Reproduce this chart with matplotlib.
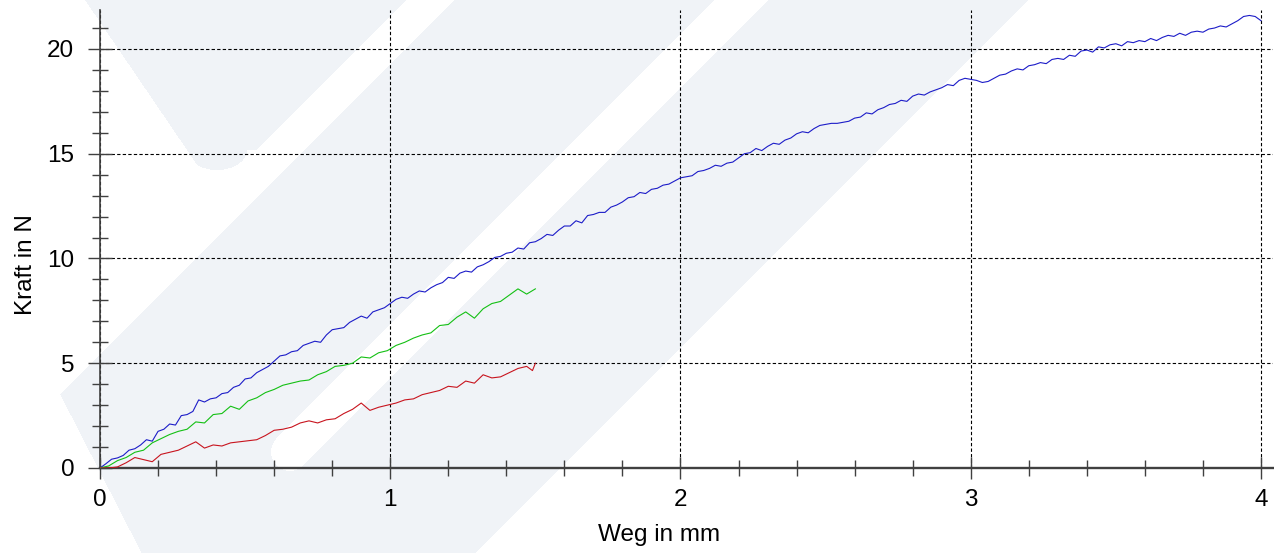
import numpy as np
import matplotlib
matplotlib.use("Agg")
import matplotlib.pyplot as plt
from matplotlib.ticker import MultipleLocator

plt.rcParams['font.family'] = ['Liberation Sans', 'DejaVu Sans']

# Kraft-Weg curves (x in mm, y in N)
blue_step = 0.02
blue_y = [0.00, 0.20, 0.42, 0.48, 0.60, 0.85, 0.92, 1.10, 1.35, 1.28,
          1.75, 1.85, 2.10, 2.05, 2.50, 2.55, 2.70, 3.25, 3.15, 3.30,
          3.35, 3.55, 3.60, 3.85, 3.95, 4.25, 4.30, 4.55, 4.70, 4.85,
          5.10, 5.35, 5.40, 5.55, 5.60, 5.85, 5.95, 6.05, 6.00, 6.35,
          6.60, 6.65, 6.70, 6.95, 7.10, 7.25, 7.15, 7.45, 7.55, 7.65,
          7.85, 8.05, 8.15, 8.10, 8.30, 8.45, 8.40, 8.60, 8.75, 8.85,
          9.10, 9.05, 9.30, 9.40, 9.35, 9.60, 9.70, 9.85, 10.05, 10.10,
          10.25, 10.30, 10.50, 10.45, 10.75, 10.80, 10.95, 11.15, 11.10, 11.35,
          11.55, 11.55, 11.80, 11.70, 12.05, 12.10, 12.20, 12.20, 12.45, 12.55,
          12.70, 12.90, 12.95, 13.15, 13.10, 13.30, 13.35, 13.50, 13.55, 13.70,
          13.85, 13.90, 13.95, 14.15, 14.20, 14.30, 14.45, 14.40, 14.55, 14.60,
          14.80, 15.00, 15.05, 15.25, 15.15, 15.35, 15.50, 15.45, 15.65, 15.75,
          15.95, 16.05, 16.00, 16.20, 16.35, 16.40, 16.45, 16.45, 16.50, 16.55,
          16.70, 16.75, 16.95, 16.90, 17.10, 17.20, 17.35, 17.40, 17.55, 17.50,
          17.75, 17.85, 17.80, 17.95, 18.05, 18.15, 18.30, 18.25, 18.50, 18.60,
          18.55, 18.50, 18.40, 18.45, 18.60, 18.75, 18.80, 18.95, 19.05, 19.00,
          19.20, 19.25, 19.35, 19.30, 19.50, 19.55, 19.50, 19.70, 19.65, 19.90,
          19.95, 19.85, 20.10, 20.05, 20.20, 20.25, 20.15, 20.35, 20.30, 20.40,
          20.35, 20.50, 20.40, 20.55, 20.65, 20.60, 20.75, 20.65, 20.80, 20.85,
          20.80, 20.95, 21.00, 21.10, 21.05, 21.20, 21.35, 21.55, 21.60, 21.55,
          21.35]
blue_x = np.round(np.arange(len(blue_y)) * blue_step, 3)

green_x = [0.00, 0.03, 0.06, 0.09, 0.12, 0.15, 0.18, 0.21, 0.24, 0.27, 0.30, 0.33, 0.36, 0.39,
           0.42, 0.45, 0.48, 0.51, 0.54, 0.57, 0.60, 0.63, 0.66, 0.69, 0.72, 0.75, 0.78, 0.81,
           0.84, 0.87, 0.90, 0.93, 0.96, 0.99, 1.02, 1.05, 1.08, 1.11, 1.14, 1.17, 1.20, 1.23,
           1.26, 1.29, 1.32, 1.35, 1.38, 1.41, 1.44, 1.47, 1.50]
green_y = [0.00, 0.10, 0.35, 0.50, 0.75, 0.85, 1.20, 1.40, 1.60, 1.75, 1.85, 2.20, 2.15, 2.55,
           2.60, 2.95, 2.80, 3.20, 3.35, 3.60, 3.75, 3.95, 4.05, 4.15, 4.20, 4.45, 4.60, 4.85,
           4.90, 5.00, 5.30, 5.25, 5.50, 5.60, 5.85, 6.00, 6.20, 6.35, 6.45, 6.80, 6.85, 7.20,
           7.45, 7.15, 7.60, 7.85, 7.95, 8.25, 8.55, 8.30, 8.55]

red_x = [0.00, 0.03, 0.06, 0.09, 0.12, 0.15, 0.18, 0.21, 0.24, 0.27, 0.30, 0.33, 0.36, 0.39,
         0.42, 0.45, 0.48, 0.51, 0.54, 0.57, 0.60, 0.63, 0.66, 0.69, 0.72, 0.75, 0.78, 0.81,
         0.84, 0.87, 0.90, 0.93, 0.96, 0.99, 1.02, 1.05, 1.08, 1.11, 1.14, 1.17, 1.20, 1.23,
         1.26, 1.29, 1.32, 1.35, 1.38, 1.41, 1.44, 1.47, 1.49, 1.50]
red_y = [0.00, 0.00, 0.05, 0.25, 0.50, 0.40, 0.30, 0.65, 0.75, 0.85, 1.05, 1.25, 0.95, 1.10,
         1.05, 1.20, 1.25, 1.30, 1.35, 1.55, 1.80, 1.85, 1.95, 2.15, 2.25, 2.15, 2.30, 2.35,
         2.60, 2.80, 3.10, 2.75, 2.90, 3.00, 3.10, 3.25, 3.30, 3.50, 3.60, 3.70, 3.90, 3.85,
         4.15, 4.05, 4.45, 4.30, 4.35, 4.55, 4.75, 4.85, 4.65, 5.00]

W, H = 1274, 553
fig = plt.figure(figsize=(W / 100, H / 100), dpi=100)

# faint logo watermark behind the plot
bg = fig.add_axes([0, 0, 1, 1], zorder=0)
yy, xx = np.mgrid[0:H, 0:W] + 0.5
s = xx + yy
wedge = (xx >= 85 + 0.68 * yy) & (s <= 406) & ((yy <= 150) | (((xx - 217) / 30) ** 2 + ((yy - 150) / 20) ** 2 <= 1))
band = (s >= 455) & (s <= 1028) & (xx >= 61 + 0.513 * (yy - 396))
slot = (s >= 715) & (s <= 768) & ((yy - xx <= 162) | ((xx - 290) ** 2 + (yy - 452) ** 2 <= 19 ** 2))
light = wedge | (band & ~slot)
img = np.ones((H, W, 3))
img[light] = np.array([240, 243, 247]) / 255
bg.imshow(img, extent=(0, W, H, 0), interpolation='nearest', aspect='auto')
bg.set_xlim(0, W)
bg.set_ylim(H, 0)
bg.axis('off')

ax = fig.add_axes([100 / W, 85 / H, 1172.6 / W, 458 / H], zorder=1)
ax.patch.set_alpha(0)

ax.plot(blue_x, blue_y, color='#1c1cc8', lw=0.8, zorder=3)
ax.plot(green_x, green_y, color='#14c014', lw=0.8, zorder=3)
ax.plot(red_x, red_y, color='#c8141e', lw=0.8, zorder=3)

ax.set_xlim(0, 4.04)
ax.set_ylim(0, 21.86)
ax.xaxis.set_major_locator(MultipleLocator(1))
ax.xaxis.set_minor_locator(MultipleLocator(0.2))
ax.yaxis.set_major_locator(MultipleLocator(5))
ax.yaxis.set_minor_locator(MultipleLocator(1))

for side in ['top', 'right']:
    ax.spines[side].set_visible(False)
ax.spines['left'].set_color('#404040')
ax.spines['left'].set_linewidth(1.2)
ax.spines['bottom'].set_color('#404040')
ax.spines['bottom'].set_linewidth(1.7)

ax.tick_params(axis='both', which='both', direction='inout', color='#404040', width=1.0,
               labelsize=17.5, labelcolor='black')
ax.tick_params(axis='y', which='major', length=17, pad=10)
ax.tick_params(axis='x', which='major', length=16, pad=7)
ax.tick_params(axis='both', which='minor', length=11)

ax.grid(True, which='major', color='black', lw=0.8, linestyle=(0, (3, 2)))
ax.set_axisbelow(True)

ax.set_xlabel('Weg in mm', fontsize=17.5)
ax.set_ylabel('Kraft in N', fontsize=17.5)
ax.xaxis.set_label_coords(0.477, -0.122)
ax.yaxis.set_label_coords(-0.054, 0.445)

fig.savefig('out.png', dpi=100)
